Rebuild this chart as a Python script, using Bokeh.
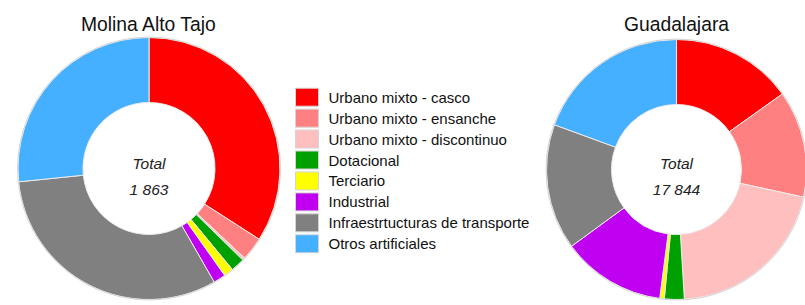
import numpy as np
from bokeh.plotting import figure
from bokeh.models import Range1d, ColumnDataSource
from bokeh.core.properties import value
from bokeh.embed import file_html
from bokeh.resources import INLINE

# ---- data ----
categories = [
    "Urbano mixto - casco",
    "Urbano mixto - ensanche",
    "Urbano mixto - discontinuo",
    "Dotacional",
    "Terciario",
    "Industrial",
    "Infraestrtucturas de transporte",
    "Otros artificiales",
]
colors = ["#FF0000", "#FF8080", "#FFBFBF", "#00A000", "#FFFF00", "#C000F0", "#808080", "#45B0FF"]
region_names = ["Molina Alto Tajo", "Guadalajara"]
molina_values = [635, 54, 6, 32, 22, 28, 590, 496]
guadalajara_values = [2700, 2370, 3680, 440, 100, 2300, 2790, 3464]
total_label = "Total"

# ---- layout (pixel coordinates of the window; y is negated) ----
W, H = 805, 305
p = figure(width=W, height=H, output_backend="svg", toolbar_location=None,
           x_range=Range1d(0, W), y_range=Range1d(-H, 0),
           min_border=0, outline_line_color=None)
p.axis.visible = False
p.grid.visible = False
p.background_fill_color = "white"
p.border_fill_color = "white"

FONT = "Liberation Sans"
donuts = [
    dict(name=region_names[0], vals=molina_values, cx=148.5, cy=168.0, r_out=131.0, r_in=66.0),
    dict(name=region_names[1], vals=guadalajara_values, cx=676.0, cy=169.0, r_out=130.0, r_in=65.0),
]

def fmt_total(n):
    return "{:,}".format(int(n)).replace(",", " ")

for d in donuts:
    vals = np.array(d["vals"], dtype=float)
    frac = vals / vals.sum()
    cum = np.concatenate([[0.0], np.cumsum(frac)])
    start = np.pi / 2 - 2 * np.pi * cum[:-1]
    end = np.pi / 2 - 2 * np.pi * cum[1:]
    src = ColumnDataSource(dict(x=[d["cx"]] * len(vals), y=[-d["cy"]] * len(vals),
                                start=start, end=end, color=colors))
    p.annular_wedge(x="x", y="y", inner_radius=d["r_in"], outer_radius=d["r_out"],
                    start_angle="start", end_angle="end", direction="clock",
                    fill_color="color", line_color="#ececec", line_width=1, source=src)
    p.circle(x=[d["cx"]], y=[-d["cy"]], radius=d["r_out"] + 0.5, fill_color=None,
             line_color="#d6d6d6", line_width=1)
    # title
    p.text(x=[d["cx"]], y=[-24], text=[d["name"]], text_font=value(FONT),
           text_font_size="19.3px", text_align="center", text_baseline="alphabetic",
           text_color="#111111")
    # total
    p.text(x=[d["cx"]], y=[-162.5], text=[total_label], text_font=value(FONT),
           text_font_size="15.5px", text_font_style="italic", text_align="center",
           text_baseline="alphabetic", text_color="#222222")
    p.text(x=[d["cx"]], y=[-188.5], text=[fmt_total(vals.sum())], text_font=value(FONT),
           text_font_size="15.5px", text_font_style="italic", text_align="center",
           text_baseline="alphabetic", text_color="#222222")

# ---- legend ----
row0, step = 96.7, 20.94
ys = [-(row0 + i * step) for i in range(len(categories))]
lsrc = ColumnDataSource(dict(x=[306.5] * len(categories), tx=[328.0] * len(categories),
                             y=ys, color=colors, label=categories))
p.rect(x="x", y="y", width=23, height=18, fill_color="color", line_color="#d4d4d4",
       line_width=1, source=lsrc)
p.text(x="tx", y="y", text="label", text_font=value(FONT), text_font_size="15px",
       text_baseline="middle", text_align="left", text_color="#111111", source=lsrc)

open("out.html", "w").write(file_html(p, INLINE))
